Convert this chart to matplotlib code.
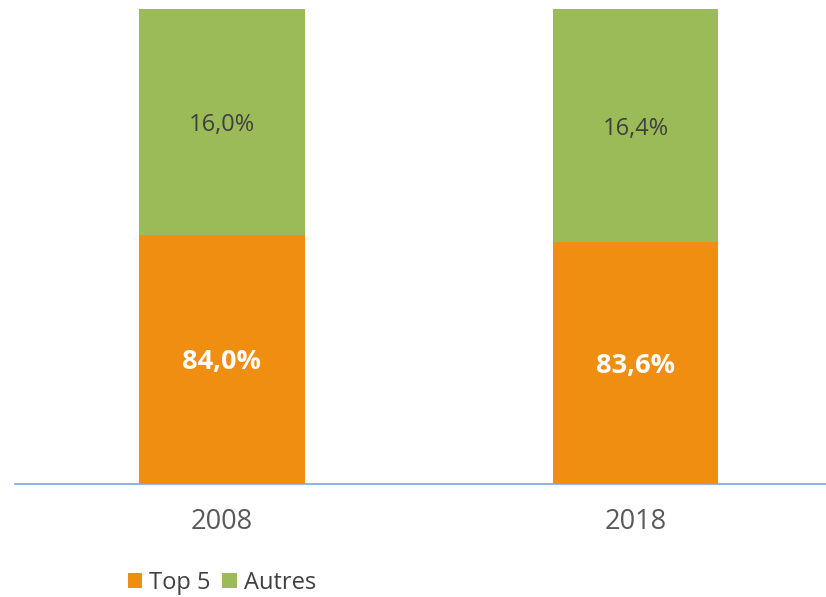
import matplotlib.pyplot as plt
import numpy as np

plt.rcParams['font.family'] = ['Open Sans', 'DejaVu Sans']

annees = ['2008', '2018']
top5 = [84.0, 83.6]
autres = [16.0, 16.4]

couleur_top5 = '#F08E12'
couleur_autres = '#9BBB59'

fig = plt.figure(figsize=(8.26, 5.97), dpi=100)
# axe coupé en haut et à droite comme dans l'original
ax = fig.add_axes([15 / 826, 113 / 597, 811 / 826, 475 / 597])

x = np.arange(len(annees))
largeur = 0.4
ax.bar(x, top5, largeur, color=couleur_top5, label='Top 5')
ax.bar(x, autres, largeur, bottom=top5, color=couleur_autres, label='Autres')

ymin, ymax = 70, 96.7
ax.set_ylim(ymin, ymax)
ax.set_xlim(-0.5, 1.46)

for i in range(len(annees)):
    y_orange = (ymin + top5[i]) / 2
    y_vert = (top5[i] + ymax) / 2
    ax.text(x[i], y_orange, f"{top5[i]:.1f}%".replace('.', ','), ha='center', va='center_baseline',
            color='white', fontsize=19.5, fontweight='bold')
    ax.text(x[i], y_vert, f"{autres[i]:.1f}%".replace('.', ','), ha='center', va='center_baseline',
            color='#404040', fontsize=17)

for cote in ['top', 'right', 'left']:
    ax.spines[cote].set_visible(False)
ax.spines['bottom'].set_color('#7FA7D9')
ax.spines['bottom'].set_linewidth(1.2)
ax.set_yticks([])
ax.set_xticks(x)
ax.set_xticklabels(annees, fontsize=19.5, color='#595959')
ax.tick_params(axis='x', length=0, pad=17)

fig.legend(loc='center left', bbox_to_anchor=(116 / 826, 1 - 583 / 597), ncol=2, frameon=False,
           fontsize=17, handlelength=0.6, handleheight=0.6, handletextpad=0.3,
           columnspacing=0.5, labelcolor='#404040', borderpad=0)

plt.savefig('out.png', dpi=100)
